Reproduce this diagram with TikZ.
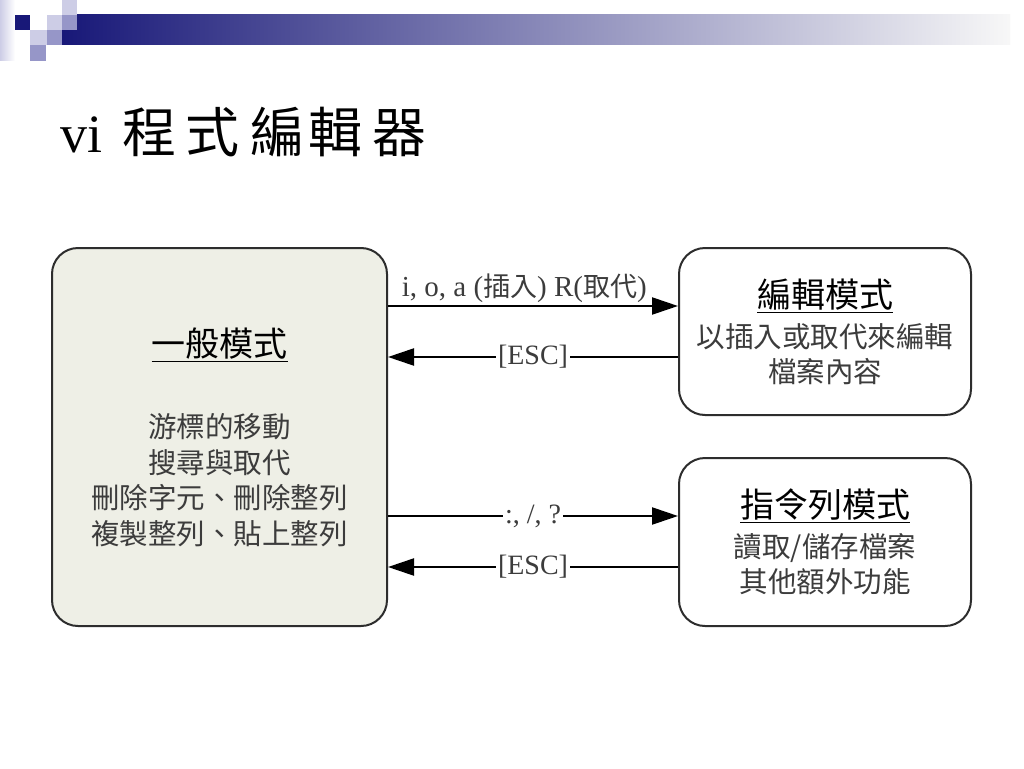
\documentclass[tikz,border=0pt]{standalone}
\usepackage{fontspec}
\setmainfont{Liberation Serif}
\newfontfamily\cjk{Noto Sans CJK TC}
\usetikzlibrary{arrows.meta,calc}
\definecolor{navyc}{RGB}{24,24,120}
\definecolor{lavl}{RGB}{205,205,230}
\definecolor{lavm}{RGB}{150,150,200}
\definecolor{leftfill}{RGB}{238,239,230}
\definecolor{bodyc}{RGB}{60,60,60}
\definecolor{edgec}{RGB}{45,45,45}
\tikzset{
  modebox/.style={draw=edgec, line width=2pt, rounded corners=26pt, inner sep=0pt},
  arr/.style={line width=2.2pt, -{Triangle[length=26pt,width=17pt]}},
  hdr/.style={font=\cjk\fontsize{34}{40}\selectfont, text=black, inner sep=0pt},
  body/.style={font=\cjk\fontsize{28.5}{35.5}\selectfont, text=bodyc, align=center, inner sep=0pt},
  lbl/.style={font=\fontsize{28}{32}\selectfont, text=bodyc, inner sep=2pt},
}
\begin{document}
\begin{tikzpicture}[x=1pt,y=-1pt]
\path[use as bounding box, fill=white] (0,0) rectangle (1024,768);
% header decoration
\shade[left color=lavl, right color=white] (0,0) rectangle (15,60);
\shade[left color=navyc, right color=white!94!gray] (62,15) rectangle (1010,45);
\fill[navyc] (15,15) rectangle (30,30);
\fill[lavl] (62,0) rectangle (77,15);
\fill[lavl] (47,15) rectangle (62,30);
\fill[lavm] (62,15) rectangle (77,30);
\fill[lavl] (30,30) rectangle (47,45);
\fill[lavm] (47,30) rectangle (62,45);
\fill[lavm] (30,45) rectangle (46,61);
% title
\node[anchor=west, inner sep=0pt] (title) at (60,132) {\fontsize{54}{60}\selectfont vi\hspace{20pt}{\cjk 程\hspace{9pt}式\hspace{11pt}編\hspace{4pt}輯\hspace{10pt}器}};
% boxes
\node[modebox, fill=leftfill, minimum width=335pt, minimum height=378pt] (gen) at (219.5,437) {};
\node[modebox, fill=white, minimum width=292pt, minimum height=167pt] (ins) at (825,331.5) {};
\node[modebox, fill=white, minimum width=292pt, minimum height=168pt] (cmd) at (825,542) {};
% box texts
\node[hdr] (genh) at (219.5,345) {\underline{一般模式}};
\node[body] (genb) at (219.5,480) {游標的移動\\搜尋與取代\\刪除字元、刪除整列\\複製整列、貼上整列};
\node[hdr] (insh) at (825,296) {\underline{編輯模式}};
\node[body] (insb) at (825,354) {以插入或取代來編輯\\檔案內容};
\node[hdr] (cmdh) at (825,506) {\underline{指令列模式}};
\node[body, font=\cjk\fontsize{28.5}{35}\selectfont] (cmdb) at (825,564.5) {讀取/儲存檔案\\其他額外功能};
% connectors
\coordinate (a1) at ($(ins.west)+(0,-25.5)$);
\coordinate (a2) at ($(ins.west)+(0,25.5)$);
\coordinate (a3) at ($(cmd.west)+(0,-26)$);
\coordinate (a4) at ($(cmd.west)+(0,25)$);
\draw[arr] (gen.east |- a1) -- (a1);
\node[lbl, anchor=south, font=\fontsize{29}{32}\selectfont] (l1) at ($(gen.east |- a1)!0.47!(a1)+(0,-1)$) {i, o, a ({\cjk\fontsize{27}{32}\selectfont 插入}) R({\cjk\fontsize{27}{32}\selectfont 取代})};
\draw[arr] (a2) -- (gen.east |- a2) node[pos=0.5, lbl, fill=white] (l2) {[ESC]};
\draw[arr] (gen.east |- a3) -- (a3) node[pos=0.5, lbl, fill=white] (l3) {:, /, ?};
\draw[arr] (a4) -- (gen.east |- a4) node[pos=0.5, lbl, fill=white] (l4) {[ESC]};
\end{tikzpicture}
\end{document}
